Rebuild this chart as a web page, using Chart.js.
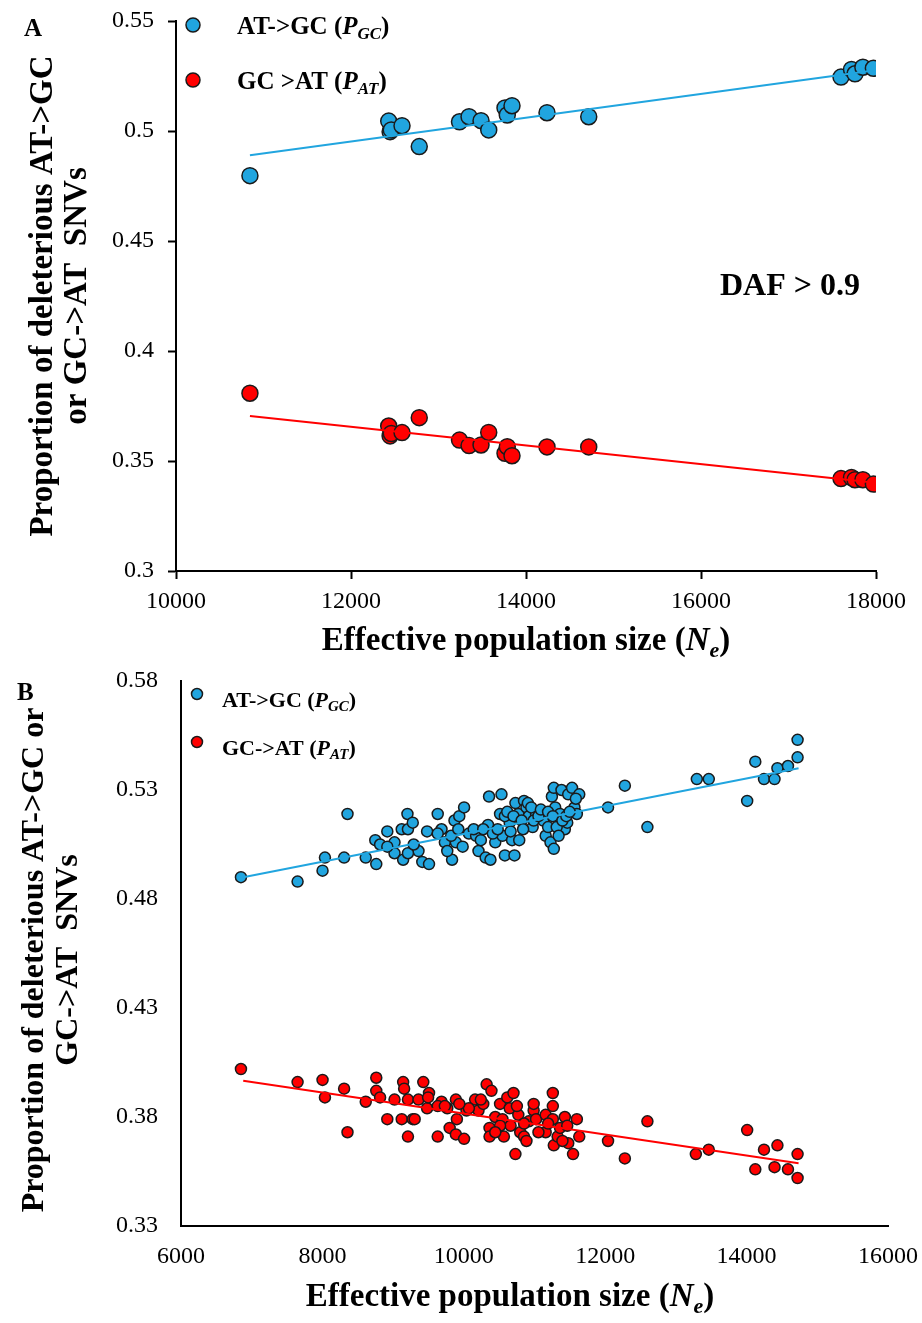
<!DOCTYPE html>
<html>
<head>
<meta charset="utf-8">
<script src="https://cdn.jsdelivr.net/npm/chart.js@4.4.0/dist/chart.umd.min.js"></script>
<style>
  body { margin: 0; background: #fff; }
  .panel { position: absolute; left: 0; width: 922px; }
  #boxA { top: 0; height: 660px; }
  #boxB { top: 660px; height: 663px; }
</style>
</head>
<body>
<div class="panel" id="boxA"><canvas id="chartA"></canvas></div>
<div class="panel" id="boxB"><canvas id="chartB"></canvas></div>
<script>
// Panel A: DAF > 0.9, one point per population
const neA = [10845, 12431, 12447, 12460, 12583, 12780, 13240, 13349, 13486, 13574,
             13760, 13786, 13840, 14240, 14717, 17600, 17720, 17760, 17850, 17970];
const gcA = [0.4797, 0.5045, 0.4997, 0.5005, 0.5024, 0.4929, 0.5042, 0.5065, 0.5047, 0.5005,
             0.5105, 0.5073, 0.5115, 0.5083, 0.5065, 0.5245, 0.528, 0.526, 0.529, 0.5285];
const atA = [0.3808, 0.3659, 0.3614, 0.3625, 0.3629, 0.3697, 0.3595, 0.357, 0.3573, 0.363,
             0.3535, 0.3565, 0.3524, 0.3564, 0.3564, 0.342, 0.3425, 0.3415, 0.3415, 0.3395];
// trend line ends
const trendNeA = [10845, 17970];
const trendGcA = [0.489, 0.5275];
const trendAtA = [0.3705, 0.3402];

// Panel B
const neBgc = [6848, 7649, 8002, 8036, 8307, 8355, 8613, 8762, 8748, 8816, 8918, 9020, 9142, 9122, 9203,
  9210, 9278, 9359, 9413, 9508, 9481, 9631, 9685, 9732, 9834, 9868, 9888, 9936, 9984, 10004,
  10072, 10174, 10208, 10309, 10343, 10357, 10377, 10445, 10513, 10533, 10547, 10581, 10649, 10683, 10717,
  10730, 10771, 10784, 10852, 10886, 10920, 10974, 11022, 11124, 11158, 11192, 11226, 11246, 11273, 11273,
  11293, 11361, 11382, 11429, 11463, 11477, 11531, 11565, 11599, 11633, 12040, 12278, 12597, 13296, 13465,
  14008, 14123, 14246, 14395, 14436, 14585, 14721, 14721,
  10140, 10241, 10275, 10411, 10479, 10581, 10615, 10662, 10703, 10818, 10839, 10906, 10954, 10988, 11056,
  11090, 11192, 11259, 11314, 11341, 11395, 11450, 11497, 11585, 9821, 9766, 9922, 9631, 9020, 8918,
  9210, 9291];
const gcB = [0.490, 0.488, 0.493, 0.499, 0.499, 0.519, 0.499, 0.496, 0.507, 0.505, 0.511, 0.501, 0.498, 0.512, 0.519,
  0.512, 0.515, 0.502, 0.497, 0.496, 0.511, 0.519, 0.512, 0.506, 0.498, 0.516, 0.506, 0.518, 0.504, 0.522,
  0.510, 0.509, 0.502, 0.499, 0.514, 0.527, 0.498, 0.506, 0.519, 0.528, 0.509, 0.500, 0.515, 0.507, 0.500,
  0.524, 0.519, 0.507, 0.525, 0.522, 0.518, 0.513, 0.519, 0.516, 0.509, 0.513, 0.506, 0.527, 0.531, 0.503,
  0.522, 0.519, 0.530, 0.512, 0.515, 0.528, 0.531, 0.522, 0.519, 0.528, 0.522, 0.532, 0.513, 0.535, 0.535,
  0.525, 0.543, 0.535, 0.535, 0.540, 0.541, 0.545, 0.553,
  0.512, 0.507, 0.512, 0.510, 0.512, 0.518, 0.520, 0.511, 0.518, 0.516, 0.512, 0.524, 0.522, 0.516, 0.518,
  0.521, 0.520, 0.518, 0.513, 0.509, 0.516, 0.518, 0.520, 0.526, 0.509, 0.502, 0.512, 0.510, 0.506, 0.504,
  0.501, 0.505];
const neBat = [6848, 7649, 8002, 8036, 8307, 8355, 8613, 8762, 8762, 8816, 8918, 9020, 9142, 9156, 9122,
  9210, 9210, 9278, 9305, 9359, 9427, 9508, 9481, 9631, 9685, 9766, 9800, 9888, 9902, 9888,
  10004, 10038, 10160, 10208, 10275, 10323, 10391, 10364, 10364, 10445, 10513, 10547, 10567, 10615, 10649,
  10662, 10703, 10730, 10771, 10798, 10852, 10886, 10920, 10988, 11022, 11158, 11158, 11259, 11259, 11259,
  11273, 11327, 11361, 11429, 11463, 11477, 11545, 11599, 11633, 12040, 12278, 12597, 13282, 13465, 14008,
  14123, 14246, 14395, 14436, 14585, 14721, 14721,
  9631, 10072, 10513, 10852, 11056, 11192, 11395, 10445, 10241, 9936, 9732, 9495, 10988, 10751];
const atB = [0.402, 0.396, 0.397, 0.389, 0.393, 0.373, 0.387, 0.398, 0.392, 0.389, 0.379, 0.388, 0.396, 0.393, 0.379,
  0.388, 0.371, 0.379, 0.379, 0.388, 0.396, 0.391, 0.384, 0.371, 0.387, 0.384, 0.375, 0.388, 0.379, 0.372,
  0.370, 0.383, 0.388, 0.383, 0.386, 0.395, 0.392, 0.375, 0.371, 0.380, 0.386, 0.379, 0.371, 0.389, 0.384,
  0.376, 0.391, 0.363, 0.381, 0.373, 0.371, 0.369, 0.378, 0.383, 0.379, 0.381, 0.373, 0.391, 0.385, 0.379,
  0.367, 0.371, 0.375, 0.380, 0.376, 0.368, 0.363, 0.379, 0.371, 0.369, 0.361, 0.378, 0.363, 0.365, 0.374,
  0.356, 0.365, 0.357, 0.367, 0.356, 0.363, 0.352,
  0.385, 0.384, 0.376, 0.377, 0.373, 0.377, 0.369, 0.373, 0.388, 0.386, 0.385, 0.389, 0.386, 0.385];
const trendNeB = [6880, 14735];
const trendGcB = [0.490, 0.540];
const trendAtB = [0.3966, 0.3588];

const xTicksA = [10000, 18000, 2000];
const yTicksA = [0.3, 0.55, 0.05];
const xTicksB = [6000, 16000, 2000];
const yTicksB = [0.33, 0.58, 0.05];

const BLUE = '#21a5df';
const RED = '#ff0000';
const EDGE = '#1a1a1a';
const SERIF = '"Liberation Serif", "Times New Roman", Times, serif';

function pts(xs, ys) {
    return xs.map((x, i) => ({ x: x, y: ys[i] }));
}

// draws bold text with italic / subscript pieces
function drawRich(ctx, parts, x, y, size, align) {
    const fontFor = (p) => (p.i ? 'italic ' : '') + 'bold ' + (p.sub ? Math.round(size * 0.68) : size) + 'px ' + SERIF;
    let w = 0;
    parts.forEach(p => { ctx.font = fontFor(p); w += ctx.measureText(p.t).width; });
    let cx = align === 'center' ? x - w / 2 : x;
    ctx.textAlign = 'left';
    ctx.textBaseline = 'alphabetic';
    ctx.fillStyle = '#000';
    parts.forEach(p => {
        ctx.font = fontFor(p);
        ctx.fillText(p.t, cx, y + (p.sub ? size * 0.2 : 0));
        cx += ctx.measureText(p.t).width;
    });
}

function dot(ctx, x, y, r, color) {
    ctx.beginPath();
    ctx.arc(x, y, r, 0, Math.PI * 2);
    ctx.fillStyle = color;
    ctx.fill();
    ctx.lineWidth = 1.5;
    ctx.strokeStyle = EDGE;
    ctx.stroke();
}

function vTitle(ctx, lines, xs, yc, size) {
    ctx.save();
    ctx.fillStyle = '#000';
    ctx.font = 'bold ' + size + 'px ' + SERIF;
    ctx.textAlign = 'center';
    ctx.textBaseline = 'alphabetic';
    lines.forEach((t, i) => {
        ctx.save();
        ctx.translate(xs[i], yc);
        ctx.rotate(-Math.PI / 2);
        ctx.fillText(t, 0, 0);
        ctx.restore();
    });
    ctx.restore();
}

function makeScale(range, fmt, withTicks, pad, fit, isX) {
    return {
        type: 'linear',
        min: range[0],
        max: range[1],
        ticks: {
            stepSize: range[2],
            autoSkip: false,
            maxRotation: 0,
            padding: pad,
            color: '#000',
            font: { family: SERIF, size: 24 },
            callback: fmt
        },
        grid: {
            display: true,
            drawOnChartArea: false,
            drawTicks: withTicks,
            tickLength: 8,
            tickWidth: 2,
            color: '#000'
        },
        border: { display: true, color: '#000', width: 2 },
        // fixed box sizes so the plot area sits where it does in the figure
        afterFit: (s) => {
            if (isX) s.height = fit; else s.width = fit;
            s.paddingLeft = 0; s.paddingRight = 0;
            s.paddingTop = 0; s.paddingBottom = 0;
        }
    };
}

function makeChart(id, series, opts, plugin) {
    const ctx = document.getElementById(id).getContext('2d');
    return new Chart(ctx, {
        type: 'scatter',
        data: {
            datasets: [
                { type: 'line', data: pts(series.trendX, series.trendGc), borderColor: BLUE, borderWidth: 2, pointRadius: 0, fill: false },
                { type: 'line', data: pts(series.trendX, series.trendAt), borderColor: RED, borderWidth: 2, pointRadius: 0, fill: false },
                { data: pts(series.gcX, series.gc), backgroundColor: BLUE, borderColor: EDGE, borderWidth: 1.5, pointRadius: opts.r, pointHoverRadius: opts.r },
                { data: pts(series.atX, series.at), backgroundColor: RED, borderColor: EDGE, borderWidth: 1.5, pointRadius: opts.r, pointHoverRadius: opts.r }
            ]
        },
        options: {
            responsive: true,
            maintainAspectRatio: false,
            animation: false,
            layout: { padding: opts.padding },
            plugins: { legend: { display: false }, tooltip: { enabled: false } },
            scales: {
                x: makeScale(opts.xr, v => String(v), opts.ticks, opts.xPad, opts.xFit, true),
                y: makeScale(opts.yr, v => String(+v.toFixed(2)), opts.ticks, opts.yPad, opts.yFit, false)
            }
        },
        plugins: [plugin]
    });
}

const textA = {
    id: 'textA',
    afterDraw(chart) {
        const ctx = chart.ctx;
        ctx.save();
        ctx.fillStyle = '#000';
        ctx.font = 'bold 25px ' + SERIF;
        ctx.textAlign = 'left';
        ctx.fillText('A', 24, 36);
        vTitle(ctx, ['Proportion of deleterious AT->GC', 'or GC->AT  SNVs'], [52, 86], 296, 33);
        drawRich(ctx, [{ t: 'Effective population size (' }, { t: 'N', i: true }, { t: 'e', i: true, sub: true }, { t: ')' }], 526, 650, 33, 'center');
        dot(ctx, 193, 25, 7, BLUE);
        drawRich(ctx, [{ t: 'AT->GC (' }, { t: 'P', i: true }, { t: 'GC', i: true, sub: true }, { t: ')' }], 237, 34, 25, 'left');
        dot(ctx, 193, 80, 7, RED);
        drawRich(ctx, [{ t: 'GC >AT (' }, { t: 'P', i: true }, { t: 'AT', i: true, sub: true }, { t: ')' }], 237, 89, 25, 'left');
        drawRich(ctx, [{ t: 'DAF > 0.9' }], 720, 295, 32, 'left');
        ctx.restore();
    }
};

const textB = {
    id: 'textB',
    afterDraw(chart) {
        const ctx = chart.ctx;
        ctx.save();
        ctx.fillStyle = '#000';
        ctx.font = 'bold 25px ' + SERIF;
        ctx.textAlign = 'left';
        ctx.fillText('B', 17, 40);
        vTitle(ctx, ['Proportion of deleterious AT->GC or', 'GC->AT  SNVs'], [43, 77], 300, 32);
        drawRich(ctx, [{ t: 'Effective population size (' }, { t: 'N', i: true }, { t: 'e', i: true, sub: true }, { t: ')' }], 510, 646, 33, 'center');
        dot(ctx, 197, 34, 5.5, BLUE);
        drawRich(ctx, [{ t: 'AT->GC (' }, { t: 'P', i: true }, { t: 'GC', i: true, sub: true }, { t: ')' }], 222, 47, 22, 'left');
        dot(ctx, 197, 82, 5.5, RED);
        drawRich(ctx, [{ t: 'GC->AT (' }, { t: 'P', i: true }, { t: 'AT', i: true, sub: true }, { t: ')' }], 222, 95, 22, 'left');
        ctx.restore();
    }
};

makeChart('chartA',
    { trendX: trendNeA, trendGc: trendGcA, trendAt: trendAtA, gcX: neA, gc: gcA, atX: neA, at: atA },
    { r: 8, xr: xTicksA, yr: yTicksA, ticks: true, xPad: 8, yPad: 14, xFit: 89, yFit: 176,
      padding: { left: 0, right: 46, top: 21, bottom: 0 } },
    textA);

makeChart('chartB',
    { trendX: trendNeB, trendGc: trendGcB, trendAt: trendAtB, gcX: neBgc, gc: gcB, atX: neBat, at: atB },
    { r: 5.5, xr: xTicksB, yr: yTicksB, ticks: false, xPad: 16, yPad: 23, xFit: 97, yFit: 181,
      padding: { left: 0, right: 34, top: 21, bottom: 0 } },
    textB);
</script>
</body>
</html>
